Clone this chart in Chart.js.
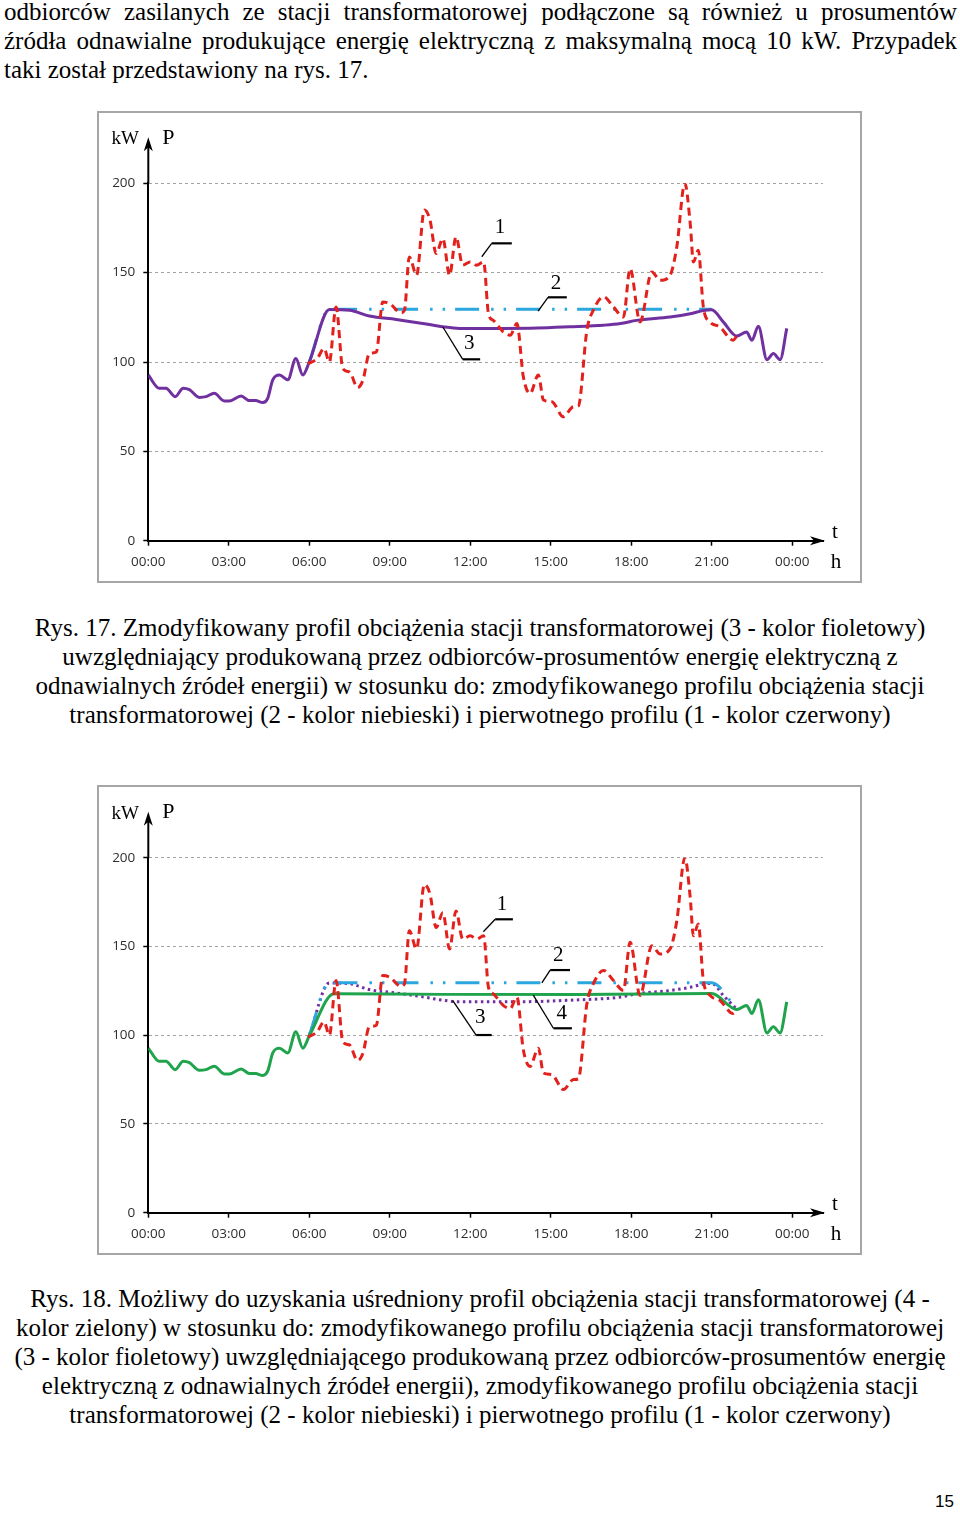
<!DOCTYPE html>
<html><head><meta charset="utf-8">
<script src="https://cdn.jsdelivr.net/npm/chart.js@4.4.0/dist/chart.umd.min.js"></script>
<style>
html,body{margin:0;padding:0;background:#fff;}
body{width:960px;height:1513px;position:relative;overflow:hidden;font-family:"Liberation Serif","Times New Roman",serif;color:#000;}
.ln{position:absolute;font-size:25px;line-height:29px;white-space:nowrap;}
.just{left:4px;width:953px;text-align:justify;text-align-last:justify;white-space:normal;}
.left{left:4px;}
.cen{left:0;width:960px;text-align:center;}
.box{position:absolute;left:97px;width:765px;box-sizing:border-box;border:2px solid #a6a6a6;}
canvas{position:absolute;left:97px;}
.pg{position:absolute;left:935px;top:1492px;font-family:"Liberation Sans",Arial,sans-serif;font-size:17px;}
</style></head>
<body>
<div class="ln just" style="top:-3px">odbiorców zasilanych ze stacji transformatorowej podłączone są również u prosumentów</div>
<div class="ln just" style="top:26px">źródła odnawialne produkujące energię elektryczną z maksymalną mocą 10 kW. Przypadek</div>
<div class="ln left" style="top:55px">taki został przedstawiony na rys. 17.</div>

<div class="box" style="top:111px;height:472px"></div>
<canvas id="c1" width="765" height="470" style="top:112px"></canvas>

<div class="ln cen" style="top:613px">Rys. 17. Zmodyfikowany profil obciążenia stacji transformatorowej (3 - kolor fioletowy)</div>
<div class="ln cen" style="top:642px">uwzględniający produkowaną przez odbiorców-prosumentów energię elektryczną z</div>
<div class="ln cen" style="top:671px">odnawialnych źródeł energii) w stosunku do: zmodyfikowanego profilu obciążenia stacji</div>
<div class="ln cen" style="top:700px">transformatorowej (2 - kolor niebieski) i pierwotnego profilu (1 - kolor czerwony)</div>

<div class="box" style="top:785px;height:470px"></div>
<canvas id="c2" width="765" height="468" style="top:786px"></canvas>

<div class="ln cen" style="top:1284px">Rys. 18. Możliwy do uzyskania uśredniony profil obciążenia stacji transformatorowej (4 -</div>
<div class="ln cen" style="top:1313px">kolor zielony) w stosunku do: zmodyfikowanego profilu obciążenia stacji transformatorowej</div>
<div class="ln cen" style="top:1342px">(3 - kolor fioletowy) uwzględniającego produkowaną przez odbiorców-prosumentów energię</div>
<div class="ln cen" style="top:1371px">elektryczną z odnawialnych źródeł energii), zmodyfikowanego profilu obciążenia stacji</div>
<div class="ln cen" style="top:1400px">transformatorowej (2 - kolor niebieski) i pierwotnego profilu (1 - kolor czerwony)</div>

<div class="pg">15</div>

<script>
// ---- tick labels ----
const tickHours = [0, 3, 6, 9, 12, 15, 18, 21, 24];
const tickLabels = ['00:00','03:00','06:00','09:00','12:00','15:00','18:00','21:00','00:00'];
const yTicks = [0, 50, 100, 150, 200];

// ---- night / morning part of the load (shared by profiles 3 and 4) ----
const baseHours = [0, 0.41, 0.66, 1.0, 1.3, 1.53, 1.9, 2.15, 2.46, 2.83, 3.02, 3.46, 3.77, 4.0, 4.27, 4.45, 4.64, 4.89, 5.2, 5.5, 5.76];
const baseLoad  = [92.7, 85.3, 85.3, 80.6, 85.3, 84.5, 80.2, 80.6, 82.5, 78.2, 78.2, 81, 78.4, 78.4, 77.3, 79.7, 90, 92.7, 90, 102, 92.7];

// ---- late evening part (shared) ----
const tailHours = [22.3, 22.5, 22.74, 23.06, 23.3, 23.55, 23.8];
const tailLoad  = [116.8, 112.2, 120, 101.3, 104.7, 101.3, 118.8];

// ---- profile 1: original (red) ----
const redHours = [5.95, 6.3, 6.55, 6.75, 7.0, 7.25, 7.5, 7.8, 8.0, 8.24, 8.5, 8.74, 9.0, 9.42, 9.55, 9.73, 10.0, 10.29, 10.5, 10.73,
  10.98, 11.23, 11.47, 11.72, 12.0, 12.24, 12.5, 12.68, 12.86, 13.24, 13.49, 13.74, 13.98, 14.23, 14.54, 14.73, 15.04, 15.47, 15.85, 16.03,
  16.35, 16.59, 16.97, 17.34, 17.71, 17.96, 18.33, 18.77, 19.08, 19.45, 19.7, 20.0, 20.2, 20.32, 20.5, 20.69, 20.94, 21.3, 21.8, 21.94];
const redLoad = [99, 102, 107.6, 100, 130.8, 96.3, 94.5, 85.7, 89.8, 104.7, 105.6, 133.6, 132.7, 127.5, 129, 158.8, 148.6, 185, 179.5, 160.7,
  169, 148.6, 170, 154.2, 156, 154.2, 156, 127, 123.3, 116.7, 115, 121.5, 91.7, 82.4, 92.7, 78.7, 77.8, 69.4, 75, 75.4,
  117.9, 129, 136.5, 130.8, 125.2, 152.3, 122.4, 150.4, 145.7, 148.6, 164.4, 200, 177.6, 156, 162.6, 130.8, 122.4, 119.7, 112.2, 114.5];

// ---- profile 2: modified (blue) ----
const blueHours = [6.0, 6.75, 21.0, 21.94];
const blueLoad  = [100, 129.5, 129.5, 114.5];

// ---- profile 3: modified incl. prosumers (purple), day part ----
const purpleHours = [6.0, 6.75, 7.5, 8.24, 9.24, 10.23, 10.98, 11.6, 12.2, 13.24, 14.5, 15.7, 16.97, 17.6, 18.2, 19.45, 20.2, 20.7, 21.0, 21.44, 21.94];
const purpleLoad  = [100, 129.4, 129, 125.7, 123.8, 121.6, 119.7, 118.8, 118.8, 118.8, 119, 119.7, 120.6, 121.5, 123.3, 125.2, 127, 128.8, 129.2, 122.3, 114.5];

// ---- profile 4: averaged (green), day part ----
const greenHours = [6.0, 6.92, 11.0, 16.0, 21.0, 21.94];
const greenLoad  = [99.5, 123.3, 123, 123, 123.5, 114.5];

function pts(h, v) { return h.map((x, i) => ({ x: x, y: v[i] })); }

const RED = '#e3211c', BLUE = '#2aa7df', PURPLE = '#7030a0', GREEN = '#1fa34c';

const arrowPlugin = {
  id: 'decor',
  afterDraw(chart, args, opts) {
    const ctx = chart.ctx, a = chart.chartArea, xs = chart.scales.x, ys = chart.scales.y;
    ctx.save();
    ctx.strokeStyle = '#000'; ctx.fillStyle = '#000'; ctx.lineWidth = 2;
    const tipY = a.top - 46;
    ctx.beginPath(); ctx.moveTo(a.left, a.top); ctx.lineTo(a.left, tipY + 6); ctx.stroke();
    ctx.beginPath();
    ctx.moveTo(a.left, tipY); ctx.lineTo(a.left - 4.5, tipY + 14); ctx.lineTo(a.left, tipY + 10); ctx.lineTo(a.left + 4.5, tipY + 14);
    ctx.closePath(); ctx.fill();
    const tx = a.right + 2;
    ctx.beginPath(); ctx.moveTo(a.right - 4, a.bottom); ctx.lineTo(tx - 6, a.bottom); ctx.stroke();
    ctx.beginPath();
    ctx.moveTo(tx, a.bottom); ctx.lineTo(tx - 15, a.bottom - 4.5); ctx.lineTo(tx - 11, a.bottom); ctx.lineTo(tx - 15, a.bottom + 4.5);
    ctx.closePath(); ctx.fill();
    ctx.textAlign = 'center'; ctx.textBaseline = 'middle';
    ctx.font = '19px "Liberation Serif"';
    ctx.fillText('kW', a.left - 23, tipY + 2);
    ctx.font = '22px "Liberation Serif"';
    ctx.fillText('P', a.left + 20, tipY + 1);
    ctx.font = '21px "Liberation Serif"';
    ctx.fillText('t', a.right + 12, a.bottom - 8);
    ctx.fillText('h', a.right + 13, a.bottom + 22);
    (opts.notes || []).forEach(n => {
      const p = n.path.map(q => [xs.getPixelForValue(q[0]), ys.getPixelForValue(q[1])]);
      ctx.lineWidth = 1.3;
      ctx.beginPath(); ctx.moveTo(p[0][0], p[0][1]); ctx.lineTo(p[1][0], p[1][1]); ctx.stroke();
      ctx.lineWidth = 2.2;
      ctx.beginPath(); ctx.moveTo(p[1][0], p[1][1]); ctx.lineTo(p[2][0], p[2][1]); ctx.stroke();
      ctx.font = '21px "Liberation Serif"';
      ctx.fillText(n.label, xs.getPixelForValue(n.at[0]), ys.getPixelForValue(n.at[1]));
    });
    ctx.restore();
  }
};

function makeChart(id, datasets, notes, padTop, xHeight) {
  return new Chart(document.getElementById(id), {
    type: 'line',
    data: { datasets: datasets },
    plugins: [arrowPlugin],
    options: {
      responsive: false, animation: false,
      layout: { padding: { top: padTop, right: 39, left: 0, bottom: 0 } },
      elements: { point: { radius: 0 }, line: { cubicInterpolationMode: 'monotone', borderWidth: 3, fill: false } },
      plugins: { legend: { display: false }, tooltip: { enabled: false }, decor: { notes: notes } },
      scales: {
        x: {
          type: 'linear', min: 0, max: 25.15,
          afterBuildTicks: s => { s.ticks = tickHours.map(v => ({ value: v })); },
          afterFit: s => { s.height = xHeight; },
          ticks: { callback: (v, i) => tickLabels[i], autoSkip: false, maxRotation: 0, padding: 8,
                   color: '#2e2e2e', font: { family: 'Open Sans', size: 13.5 } },
          grid: { drawOnChartArea: false, drawTicks: true, tickLength: 5, tickColor: '#000', tickWidth: 1.5 },
          border: { display: true, color: '#000', width: 2 }
        },
        y: {
          type: 'linear', min: 0, max: 200,
          afterBuildTicks: s => { s.ticks = yTicks.map(v => ({ value: v })); },
          afterFit: s => { s.width = 51.3; },
          ticks: { padding: 8, color: '#2e2e2e', font: { family: 'Open Sans', size: 13.5 } },
          grid: { color: c => (c.tick && c.tick.value === 0) ? 'rgba(0,0,0,0)' : '#a3a3a3', lineWidth: 1,
                  drawTicks: true, tickLength: 5, tickColor: '#000', tickWidth: 1.5, tickBorderDash: [] },
          border: { display: true, color: '#000', width: 2, dash: [3, 3] }
        }
      }
    }
  });
}

const redSet = () => ({ data: pts(redHours, redLoad), borderColor: RED, borderDash: [8, 5], borderWidth: 3 });
const blueSet = (n) => ({ data: pts(blueHours.slice(0, n), blueLoad.slice(0, n)), borderColor: BLUE, borderDash: [24, 12, 2.5, 10, 2.5, 10], borderWidth: 3 });

// Rys. 17
makeChart('c1', [
  redSet(),
  { data: pts(baseHours.concat(purpleHours, tailHours), baseLoad.concat(purpleLoad, tailLoad)), borderColor: PURPLE, borderWidth: 3 },
  blueSet(3)
], [
  { label: '1', path: [[12.43, 158.9], [12.80, 166.4], [13.55, 166.4]], at: [13.11, 175] },
  { label: '2', path: [[14.53, 128.5], [14.90, 136.2], [15.60, 136.2]], at: [15.2, 144.2] },
  { label: '3', path: [[10.98, 119.6], [11.72, 101.5], [12.37, 101.5]], at: [11.96, 110.6] }
], 71.3, 41.3);

// Rys. 18
makeChart('c2', [
  redSet(),
  { data: pts(baseHours.concat(greenHours, tailHours), baseLoad.concat(greenLoad, tailLoad)), borderColor: GREEN, borderWidth: 3 },
  blueSet(4),
  { data: pts(purpleHours, purpleLoad), borderColor: PURPLE, borderDash: [2.5, 3.5], borderWidth: 3 }
], [
  { label: '1', path: [[12.49, 158.3], [12.93, 165.3], [13.59, 165.3]], at: [13.18, 173.9] },
  { label: '2', path: [[14.67, 129.5], [14.98, 136.7], [15.72, 136.7]], at: [15.28, 144.8] },
  { label: '4', path: [[14.35, 122.6], [15.10, 103.9], [15.79, 103.9]], at: [15.41, 112.5] },
  { label: '3', path: [[11.35, 119.5], [12.22, 100.1], [12.80, 100.1]], at: [12.37, 109.7] }
], 71.7, 41.3);
</script>
</body></html>
